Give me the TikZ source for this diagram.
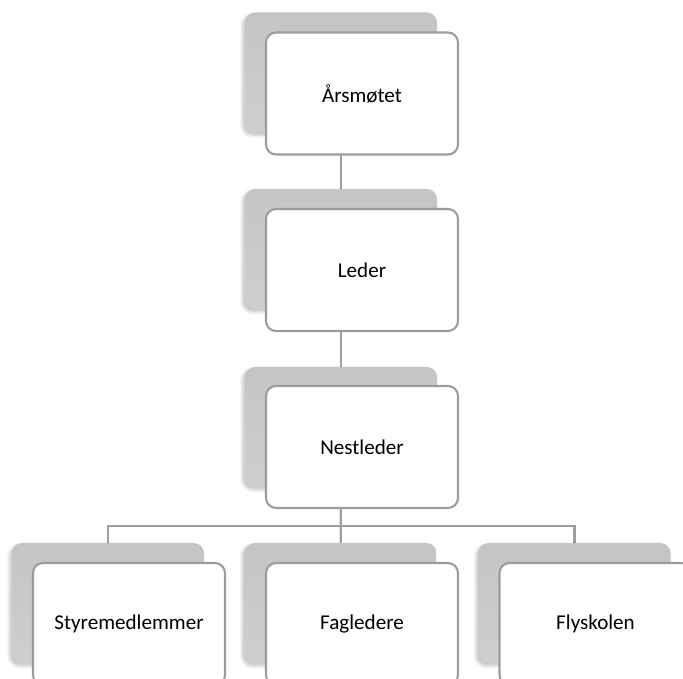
\documentclass[tikz,border=0pt]{standalone}
\usepackage{fontspec}
\setmainfont{Carlito}
\usetikzlibrary{backgrounds,shadows.blur}

\begin{document}
\begin{tikzpicture}[scale=1.0,
  back/.style={rectangle,rounded corners=0.2cm,minimum width=3.84cm,minimum height=2.40cm,
    top color=gray!46,bottom color=gray!38,
    blur shadow={shadow xshift=-1.2pt,shadow yshift=-1.5pt,shadow blur steps=6,shadow opacity=25}},
  front/.style={rectangle,rounded corners=0.2cm,minimum width=3.84cm,minimum height=2.44cm,
    fill=white,draw=gray!78,line width=1.2pt,font=\fontsize{12}{14.5}\selectfont},
  link/.style={draw=gray!75,line width=1.3pt}]
  \useasboundingbox (0,0) rectangle (13.66,-13.58) ; %Image frame

  \node[back] (aarsS) at (6.82,-1.45) {} ;   %Top level
  \node[front] (aars) at (7.24,-1.87) {Årsmøtet} ;

  \node[back] (lederS) at (6.82,-4.98) {} ;  %Second level
  \node[front] (leder) at (7.24,-5.40) {Leder} ;

  \node[back] (nestS) at (6.82,-8.54) {} ;   %Third level
  \node[front] (nest) at (7.24,-8.94) {Nestleder} ;

  \node[back] (styreS) at (2.16,-12.06) {} ; %Bottom row
  \node[front] (styre) at (2.58,-12.48) {Styremedlemmer} ;

  \node[back] (fagS) at (6.81,-12.06) {} ;
  \node[front] (fag) at (7.24,-12.48) {Fagledere} ;

  \node[back] (flyS) at (11.49,-12.06) {} ;
  \node[front] (fly) at (11.91,-12.48) {Flyskolen} ;

  \coordinate (bar) at (6.82,-10.52) ;        %Branch height

  \begin{scope}[on background layer]
    \draw[link] (aarsS) -- (lederS) ;
    \draw[link] (lederS) -- (nestS) ;
    \draw[link] (nestS) -- (fagS) ;
    \draw[link] (styreS) |- (bar) -| (flyS) ;
  \end{scope}
\end{tikzpicture}
\end{document}
